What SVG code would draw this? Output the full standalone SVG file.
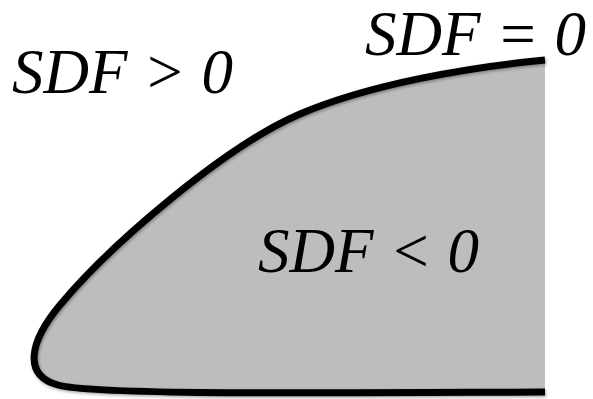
<svg xmlns="http://www.w3.org/2000/svg" width="593" height="399" viewBox="0 0 593 399">
  <style>
    .lbl { font-family: "Liberation Serif", "Times New Roman", serif; font-style: italic; font-size: 63px; fill: #000; }
  </style>
  <defs>
    <filter id="sh" x="-5%" y="-5%" width="110%" height="110%">
      <feDropShadow dx="1" dy="1.5" stdDeviation="1.5" flood-color="#000" flood-opacity="0.35"/>
    </filter>
  </defs>
  <rect width="593" height="399" fill="#fff"/>
  <g id="region">
    <path d="M545,60 C470,67 370,84 300,114 C225,146 110,245 60,305 C30,341 22,375 58,385 C94,395 300,393 545,392 L545,60 Z" fill="#bdbdbd" stroke="none"/>
    <path d="M545,60 C470,67 370,84 300,114 C225,146 110,245 60,305 C30,341 22,375 58,385 C94,395 300,393 545,392" fill="none" stroke="#000" stroke-width="7" filter="url(#sh)"/>
  </g>
  <g id="labels">
    <text class="lbl" x="12" y="93">SDF &gt; 0</text>
    <text class="lbl" x="365" y="55">SDF = 0</text>
    <text class="lbl" x="258" y="272">SDF &lt; 0</text>
  </g>
</svg>
